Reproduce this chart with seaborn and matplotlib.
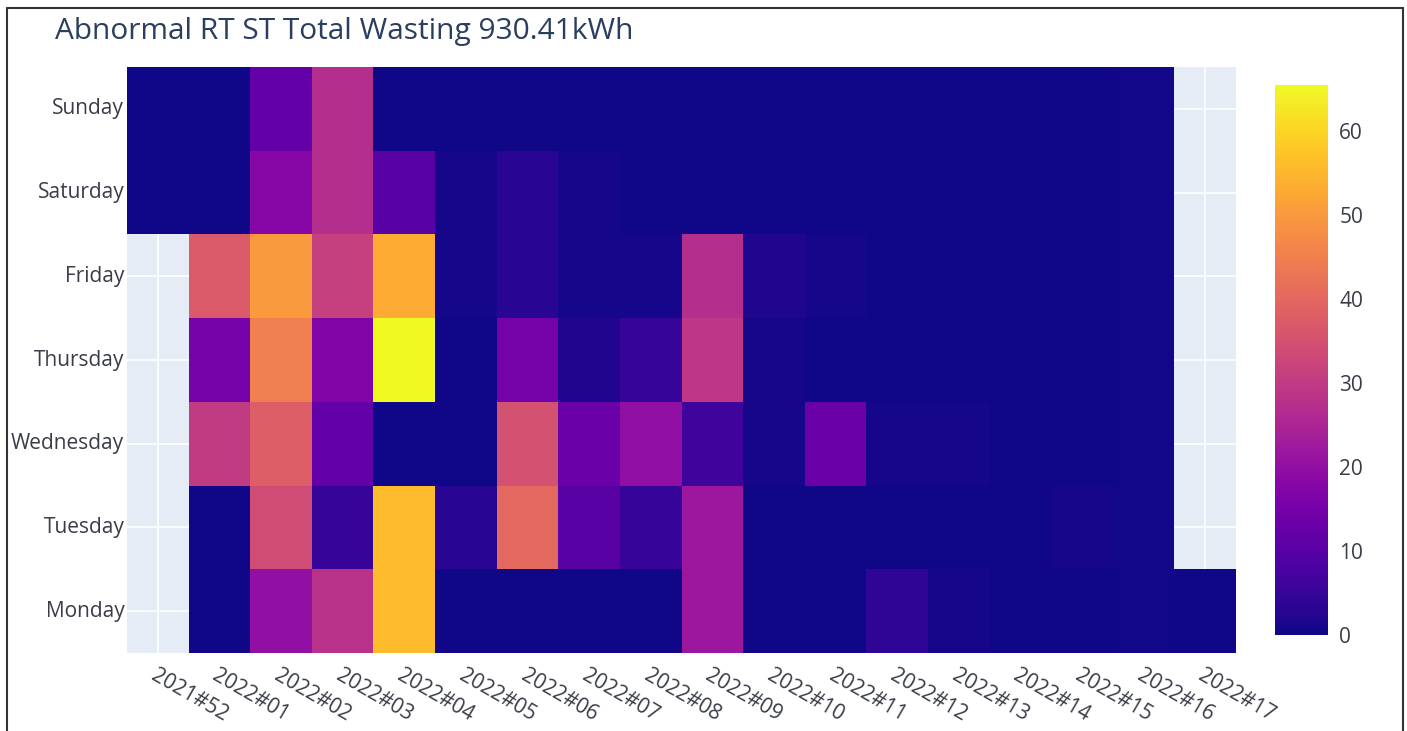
import numpy as np
import pandas as pd
import seaborn as sns
import matplotlib
matplotlib.use("Agg")
import matplotlib.pyplot as plt
from matplotlib.lines import Line2D

weeks = ["2021#52", "2022#01", "2022#02", "2022#03", "2022#04", "2022#05", "2022#06",
         "2022#07", "2022#08", "2022#09", "2022#10", "2022#11", "2022#12", "2022#13",
         "2022#14", "2022#15", "2022#16", "2022#17"]
days = ["Sunday", "Saturday", "Friday", "Thursday", "Wednesday", "Tuesday", "Monday"]
nan = np.nan
sunday    = [0.3, 0.3, 12, 27, 0.5, 0.5, 0.5, 0.5, 0.5, 0.5, 0.5, 0.5, 0.5, 0.5, 0.5, 0.5, 0.6, nan]
saturday  = [0.3, 0.3, 18, 27, 10, 1, 3, 1, 0.5, 0.5, 0.5, 0.5, 0.5, 0.5, 0.5, 0.5, 0.6, nan]
friday    = [nan, 37, 50, 31, 53, 1, 3, 1, 1, 27, 2, 1, 0.5, 0.5, 0.5, 0.5, 0.6, nan]
thursday  = [nan, 15, 45, 17, 65.5, 0.3, 15, 2, 5, 29, 1, 0.5, 0.5, 0.5, 0.5, 0.5, 0.6, nan]
wednesday = [nan, 30, 38, 12, 0.3, 0.3, 35, 13, 20, 6, 1, 13, 1, 0.8, 0.5, 0.5, 0.6, nan]
tuesday   = [nan, 0.3, 34, 5, 56, 3, 40, 10, 5, 22, 0.5, 0.5, 0.5, 0.5, 0.5, 0.8, 0.6, nan]
monday    = [nan, 0.3, 20, 28, 56, 0.3, 0.3, 0.3, 0.3, 22, 0.5, 0.5, 4, 1, 0.5, 0.5, 0.6, 0.3]
cbar_ticks = [0, 10, 20, 30, 40, 50, 60]
title = "Abnormal RT ST Total Wasting 930.41kWh"

data = pd.DataFrame([sunday, saturday, friday, thursday, wednesday, tuesday, monday],
                    index=days, columns=weeks)

sns.set_style("white")
plt.rcParams["font.family"] = ["Open Sans", "DejaVu Sans"]
title_col = "#2a3f5f"
tick_col = "#3a3d48"

fig = plt.figure(figsize=(14.07, 7.31), dpi=100)
ax = fig.add_axes([0.0903, 0.1067, 0.7882, 0.8016])
cax = fig.add_axes([0.9062, 0.1313, 0.0377, 0.7524])
ax.set_facecolor("#E5ECF6")

sns.heatmap(data, ax=ax, cbar_ax=cax, cmap="plasma", vmin=0, vmax=65.5,
            mask=data.isna(), linewidths=0, cbar_kws={"ticks": cbar_ticks})

# gridlines at tick centers (visible only where data is missing)
for x in np.arange(len(weeks)) + 0.5:
    ax.axvline(x, color="white", lw=1.2, zorder=0.5)
for y in np.arange(len(days)) + 0.5:
    ax.axhline(y, color="white", lw=1.2, zorder=0.5)
for coll in ax.collections:
    coll.set_zorder(1)

for s in ax.spines.values():
    s.set_visible(False)
ax.set_xlabel("")
ax.set_ylabel("")
ax.set_yticklabels(days, rotation=0, fontsize=15, color=tick_col)
ax.set_xticklabels(weeks, rotation=-30, ha="left", rotation_mode="anchor",
                   fontsize=15, color=tick_col)
ax.tick_params(axis="both", length=0)
ax.tick_params(axis="x", pad=9)
ax.tick_params(axis="y", pad=2)

cax.tick_params(length=0, labelsize=15, labelcolor=tick_col, pad=8)
for s in cax.spines.values():
    s.set_visible(False)
cax.collections[0].set_edgecolor("face")

fig.text(55 / 1407, 1 - 31 / 731, title, fontsize=21.5, color=title_col, va="center", ha="left")

# outer frame
kw = dict(color="#333333", lw=1.5, transform=fig.transFigure)
fig.add_artist(Line2D([7 / 1407, 7 / 1407], [0, 1 - 8 / 731], **kw))
fig.add_artist(Line2D([7 / 1407, 1403 / 1407], [1 - 8 / 731, 1 - 8 / 731], **kw))
fig.add_artist(Line2D([1403 / 1407, 1403 / 1407], [0, 1 - 8 / 731], **kw))

fig.savefig("out.png", dpi=100, facecolor="white")
